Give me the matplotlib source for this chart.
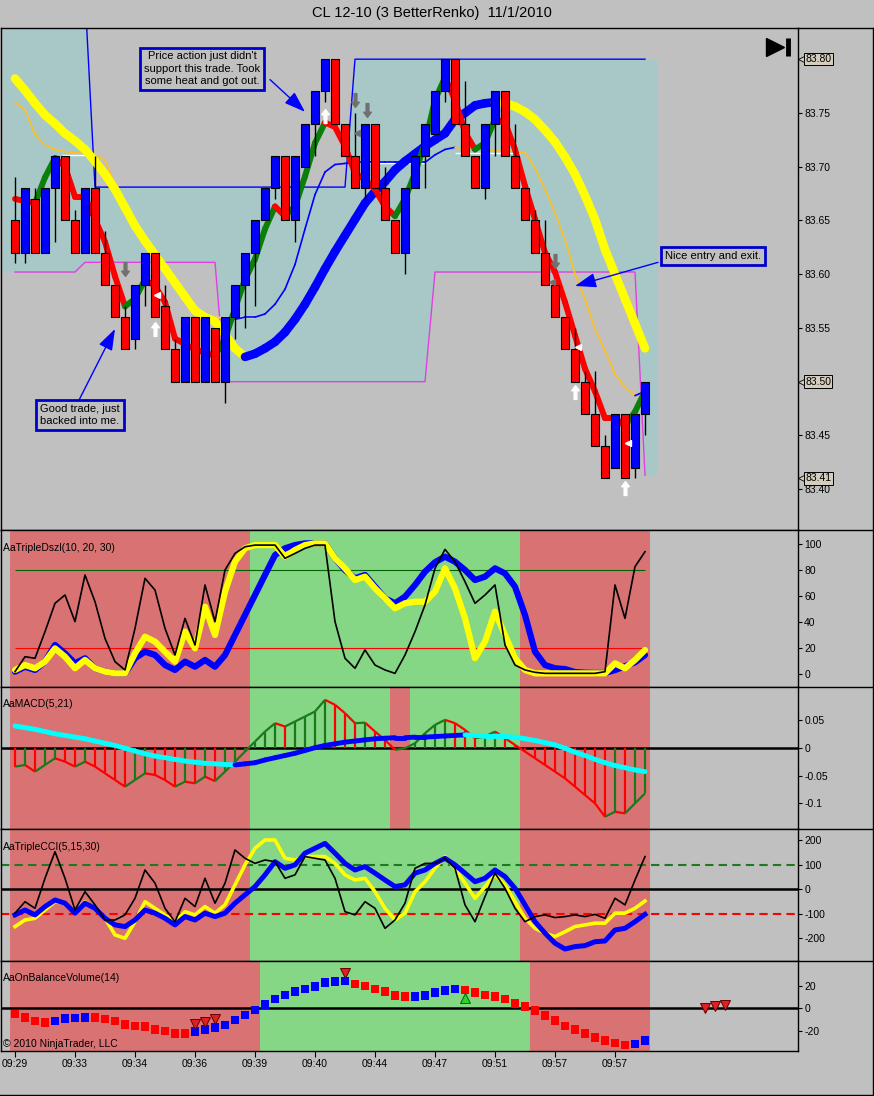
import numpy as np
import matplotlib
matplotlib.use('Agg')
import matplotlib.pyplot as plt
import matplotlib.transforms as mtransforms
from matplotlib.collections import LineCollection
from matplotlib.lines import Line2D
from matplotlib.path import Path

plt.rcParams['font.family'] = ['Liberation Sans', 'DejaVu Sans']
plt.rcParams['axes.unicode_minus'] = False

# ---------------- data (one entry per renko bar) ----------------
bar_open = [83.65, 83.62, 83.67, 83.62, 83.68, 83.71, 83.65, 83.62, 83.68, 83.62,
            83.59, 83.56, 83.54, 83.59, 83.62, 83.57, 83.53, 83.50, 83.56, 83.50,
            83.55, 83.50, 83.56, 83.59, 83.62, 83.65, 83.68, 83.71, 83.65, 83.70,
            83.74, 83.77, 83.80, 83.74, 83.71, 83.68, 83.74, 83.68, 83.65, 83.62,
            83.68, 83.71, 83.73, 83.77, 83.80, 83.74, 83.71, 83.68, 83.74, 83.77,
            83.71, 83.68, 83.65, 83.62, 83.59, 83.56, 83.53, 83.50, 83.47, 83.44,
            83.42, 83.47, 83.42, 83.47]
bar_close = [83.62, 83.68, 83.62, 83.68, 83.71, 83.65, 83.62, 83.68, 83.62, 83.59,
             83.56, 83.53, 83.59, 83.62, 83.56, 83.53, 83.50, 83.56, 83.50, 83.56,
             83.50, 83.56, 83.59, 83.62, 83.65, 83.68, 83.71, 83.65, 83.71, 83.74,
             83.77, 83.80, 83.74, 83.71, 83.68, 83.74, 83.68, 83.65, 83.62, 83.68,
             83.71, 83.74, 83.77, 83.80, 83.74, 83.71, 83.68, 83.74, 83.77, 83.71,
             83.68, 83.65, 83.62, 83.59, 83.56, 83.53, 83.50, 83.47, 83.44, 83.41,
             83.47, 83.41, 83.47, 83.50]
bar_high = [83.69, 83.68, 83.68, 83.68, 83.71, 83.71, 83.66, 83.68, 83.71, 83.64,
            83.59, 83.57, 83.59, 83.62, 83.62, 83.59, 83.54, 83.56, 83.56, 83.56,
            83.55, 83.56, 83.59, 83.62, 83.65, 83.68, 83.71, 83.71, 83.71, 83.74,
            83.77, 83.80, 83.80, 83.74, 83.75, 83.74, 83.74, 83.70, 83.65, 83.68,
            83.71, 83.74, 83.77, 83.80, 83.80, 83.78, 83.71, 83.74, 83.77, 83.77,
            83.74, 83.68, 83.66, 83.65, 83.59, 83.56, 83.55, 83.51, 83.51, 83.45,
            83.47, 83.47, 83.47, 83.50]
bar_low = [83.61, 83.61, 83.62, 83.62, 83.63, 83.65, 83.62, 83.62, 83.62, 83.59,
           83.56, 83.53, 83.53, 83.57, 83.56, 83.53, 83.50, 83.50, 83.50, 83.50,
           83.50, 83.48, 83.54, 83.55, 83.57, 83.65, 83.67, 83.65, 83.63, 83.70,
           83.71, 83.76, 83.74, 83.71, 83.68, 83.67, 83.68, 83.65, 83.62, 83.60,
           83.68, 83.68, 83.73, 83.76, 83.74, 83.71, 83.68, 83.67, 83.71, 83.71,
           83.68, 83.65, 83.62, 83.59, 83.56, 83.53, 83.50, 83.47, 83.44, 83.41,
           83.42, 83.41, 83.41, 83.45]

fast_ma = [83.670, 83.668, 83.666, 83.690, 83.708, 83.700, 83.672, 83.672, 83.651, 83.630,
           83.598, 83.570, 83.577, 83.595, 83.589, 83.574, 83.540, 83.535, 83.530, 83.527,
           83.524, 83.540, 83.568, 83.595, 83.614, 83.642, 83.663, 83.654, 83.663, 83.691,
           83.722, 83.741, 83.737, 83.719, 83.694, 83.688, 83.679, 83.663, 83.654, 83.670,
           83.694, 83.722, 83.762, 83.783, 83.762, 83.732, 83.716, 83.722, 83.744, 83.741,
           83.716, 83.682, 83.651, 83.620, 83.602, 83.574, 83.543, 83.512, 83.491, 83.466,
           83.466, 83.459, 83.472, 83.491]
slow_ma = [83.782, 83.771, 83.759, 83.748, 83.740, 83.731, 83.724, 83.716, 83.705, 83.693,
           83.679, 83.662, 83.645, 83.631, 83.618, 83.605, 83.592, 83.579, 83.566, 83.560,
           83.556, 83.544, 83.531, 83.523, 83.526, 83.531, 83.537, 83.546, 83.558, 83.572,
           83.588, 83.605, 83.621, 83.636, 83.651, 83.666, 83.677, 83.686, 83.697, 83.705,
           83.712, 83.719, 83.725, 83.731, 83.744, 83.750, 83.757, 83.759, 83.760, 83.759,
           83.756, 83.751, 83.744, 83.734, 83.723, 83.709, 83.693, 83.673, 83.651, 83.623,
           83.600, 83.577, 83.554, 83.531]
thin_ma = [83.760, 83.753, 83.730, 83.720, 83.716, 83.714, 83.713, 83.712, 83.711, 83.706,
           83.683, 83.656, 83.644, 83.632, 83.621, 83.605, 83.591, 83.577, 83.568, 83.562,
           83.560, 83.558, 83.558, 83.560, 83.560, 83.563, 83.572, 83.586, 83.609, 83.642,
           83.674, 83.695, 83.702, 83.703, 83.704, 83.704, 83.704, 83.704, 83.704, 83.704,
           83.704, 83.704, 83.711, 83.716, 83.718, 83.717, 83.716, 83.716, 83.715, 83.715,
           83.714, 83.713, 83.699, 83.679, 83.657, 83.632, 83.600, 83.577, 83.549, 83.529,
           83.507, 83.495, 83.487, 83.491]
chan_upper = [83.86] * 8 + [83.681] * 26 + [83.80] * 30
chan_lower = [83.602] * 7 + [83.611] * 14 + [83.50] * 21 + [83.602] * 21 + [83.413]

# entry-price dashes: (start bar, end bar, price)
entry_x0 = [4.7, 20.0, 35.3, 44.0]
entry_x1 = [8.0, 24.0, 41.0, 50.5]
entry_y = [83.711, 83.560, 83.703, 83.713]

# trade markers
up_arrow_x = [14, 31, 56, 61]
up_arrow_y = [83.549, 83.747, 83.490, 83.401]
down_arrow_x = [11, 34, 35.2, 54]
down_arrow_y = [83.605, 83.762, 83.753, 83.612]
left_tri_x = [14.2, 56.3, 61.3]
left_tri_y = [83.581, 83.532, 83.443]
gray_tri_x = [34.2, 53.7]
gray_tri_y = [83.731, 83.593]

notes = ["Price action just didn't\nsupport this trade. Took\nsome heat and got out.",
         "Nice entry and exit.",
         "Good trade, just\nbacked into me."]
note_x = [18.7, 69.8, 6.5]
note_y = [83.791, 83.617, 83.469]
note_tail_x = [25.5, 64.3, 6.3]
note_tail_y = [83.781, 83.611, 83.481]
note_tip_x = [29.0, 56.0, 10.0]
note_tip_y = [83.751, 83.589, 83.549]

dszl_black = [1.8, 13.3, 12.1, 32.6, 54.4, 60.8, 40.3, 76.2, 55.6, 27.4,
              9.5, 3.1, 35.1, 73.6, 64.6, 35.1, 14.6, 42.8, 22.3, 68.5,
              40.3, 80, 92.8, 97.9, 99.2, 99.2, 99.2, 89, 92.8, 96.7,
              99.2, 99.2, 40.3, 12.1, 4.4, 18.5, 6.9, 3.1, 0.5, 14.6,
              32.6, 53.1, 81.3, 95.9, 86.4, 71, 54.4, 60.8, 68.5, 22.3,
              6.9, 3.1, 1.3, 0.5, 0.5, 0.5, 0.5, 0.5, 0.5, 1.8,
              68.5, 42.8, 82.6, 94.1]
dszl_yellow = [3.1, 6.9, 4.4, 9.5, 19.7, 13.3, 4.4, 10.8, 4.4, 1.8,
               0.5, 0.5, 15.9, 28.7, 24.9, 17.2, 9.5, 32.6, 19.7, 51.8,
               30, 63.3, 86.4, 96.7, 99.2, 99.2, 99.2, 90.3, 95.4, 99.2,
               100.5, 100.5, 89, 81.3, 72.3, 74.9, 65.9, 58.2, 50.5, 54.4,
               55.6, 55.6, 63.3, 81.3, 65.9, 42.8, 12.1, 24.9, 48, 30,
               12.1, 3.1, 0.5, 0.5, 0.5, 0.5, 0.5, 0.5, 0.5, 0.5,
               8.2, 4.4, 10.8, 18.5]
dszl_blue = [1.8, 5.6, 3.1, 9.5, 22.3, 15.9, 8.2, 12.1, 4.4, 1.8,
             0.5, 0.5, 12.1, 17.2, 14.6, 6.9, 3.1, 9.5, 5.6, 10.8,
             5.6, 14.6, 30, 45.4, 60.8, 76.2, 91.5, 96.7, 99.2, 100.5,
             100.5, 100.5, 89, 80, 73.6, 76.2, 67.2, 58.2, 54.4, 59.5,
             68.5, 78.7, 86, 90.3, 86.4, 80, 72.3, 74.9, 81.3, 77.4,
             67.2, 45.4, 17.2, 6.9, 4.4, 3.8, 1.5, 1.0, 0.8, 0.8,
             3, 6, 9, 14.6]

macd_hist = [-0.034, -0.031, -0.043, -0.031, -0.019, -0.025, -0.034, -0.025, -0.034, -0.046,
             -0.058, -0.070, -0.058, -0.046, -0.049, -0.058, -0.070, -0.061, -0.064, -0.052,
             -0.060, -0.043, -0.025, -0.007, 0.011, 0.029, 0.044, 0.038, 0.047, 0.056,
             0.065, 0.086, 0.077, 0.062, 0.044, 0.045, 0.029, 0.014, -0.004, -0.001,
             0.008, 0.026, 0.041, 0.050, 0.044, 0.032, 0.017, 0.020, 0.029, 0.017,
             0.005, -0.007, -0.019, -0.031, -0.043, -0.055, -0.070, -0.085, -0.100, -0.124,
             -0.115, -0.118, -0.100, -0.082]
macd_line = [0.039, 0.036, 0.033, 0.029, 0.025, 0.022, 0.019, 0.016, 0.012, 0.008,
             0.004, -0.001, -0.006, -0.011, -0.015, -0.018, -0.021, -0.024, -0.026, -0.028,
             -0.029, -0.030, -0.031, -0.029, -0.027, -0.022, -0.018, -0.014, -0.010, -0.005,
             0.000, 0.004, 0.007, 0.010, 0.012, 0.014, 0.016, 0.017, 0.018, 0.018,
             0.019, 0.019, 0.020, 0.021, 0.022, 0.023, 0.022, 0.021, 0.021, 0.020,
             0.019, 0.016, 0.013, 0.009, 0.005, -0.001, -0.008, -0.014, -0.021, -0.027,
             -0.032, -0.036, -0.040, -0.043]

cci_black = [-98, -51, -78, 45, 154, 45, -85, -10, -64, -126,
             -126, -105, -37, 79, 25, -78, -133, -37, -71, 45,
             -57, 25, 161, 127, 106, 120, 113, 45, 59, 134,
             127, 120, 45, -92, -105, -51, -78, -160, -126, -57,
             86, 106, 106, 127, 86, -64, -133, -30, 66, 4,
             -78, -133, -112, -105, -116, -112, -105, -112, -103, -119,
             -37, -64, 38, 134]
cci_yellow = [-153, -126, -119, -85, -51, -57, -92, -51, -78, -119,
              -187, -201, -133, -51, -78, -105, -133, -92, -105, -71,
              -98, -64, 18, 100, 168, 202, 202, 127, 120, 134,
              134, 134, 106, 59, 38, 45, -10, -78, -126, -98,
              -10, 31, 86, 134, 86, 25, -37, 10, 59, 18,
              -51, -119, -160, -180, -194, -174, -153, -146, -139, -139,
              -98, -98, -78, -48]
cci_blue = [-105, -85, -105, -71, -44, -57, -98, -57, -78, -119,
            -146, -153, -126, -85, -98, -119, -146, -112, -126, -98,
            -112, -98, -57, -23, 11, 59, 113, 86, 100, 148,
            168, 188, 148, 106, 79, 93, 66, 38, 11, 18,
            66, 79, 106, 127, 100, 66, 31, 45, 79, 52,
            4, -64, -133, -180, -221, -245, -235, -231, -215, -212,
            -167, -160, -133, -103]

obv = [-5.1, -8.3, -11.3, -12.4, -11.3, -9.2, -8.6, -8.1, -8.3, -9.5,
       -11.3, -14.2, -15.7, -16.3, -18.7, -20.2, -22.2, -22.4, -20.8, -18.7,
       -16.9, -14.8, -10.4, -6.0, -1.5, 3.5, 8.3, 11.8, 14.8, 17.2,
       19.2, 22.8, 23.7, 24.3, 21.6, 19.8, 17.2, 14.8, 11.2, 10.2,
       10.4, 11.2, 14.1, 15.7, 17.2, 16.3, 13.9, 11.8, 10.4, 8.3,
       4.4, 1.5, -2.1, -6.5, -11.0, -15.7, -18.7, -22.6, -25.8, -29.0,
       -30.8, -32.6, -31.7, -29.0]
obv_sell_x = [18, 19, 20, 33, 69, 70, 71]
obv_sell_y = [-14, -11.9, -9.5, 31.6, 0, 2, 2.9]
obv_buy_x = [45]
obv_buy_y = [8.9]

# background state per bar: r = bearish, g = bullish
dszl_bg = 'r' * 24 + 'g' * 27 + 'r' * 13
macd_bg = 'r' * 24 + 'g' * 14 + 'r' * 2 + 'g' * 11 + 'r' * 13
cci_bg = 'r' * 24 + 'g' * 27 + 'r' * 13
obv_bg = 'r' * 25 + 'g' * 27 + 'r' * 12

time_ticks = list(range(0, 61, 6))
time_labels = ['09:29', '09:33', '09:34', '09:36', '09:39', '09:40',
               '09:44', '09:47', '09:51', '09:57', '09:57']

# ---------------- styling ----------------
GRAY = '#C0C0C0'
RED_BG = '#D97373'
GREEN_BG = '#85D685'
TEAL = '#A8C8C8'
W, H = 874, 1096
x = np.arange(len(bar_open))

fig = plt.figure(figsize=(W / 100, H / 100), dpi=100, facecolor=GRAY)


def panel(top, bottom):
    ax = fig.add_axes([1 / W, (H - bottom) / H, 797 / W, (bottom - top) / H])
    ax.set_facecolor(GRAY)
    ax.set_xlim(-1.4, 78.3)
    ax.yaxis.tick_right()
    ax.tick_params(axis='y', direction='out', length=3, width=0.8,
                   labelsize=7.5, pad=1.5)
    ax.tick_params(axis='x', bottom=False, labelbottom=False)
    for s in ax.spines.values():
        s.set_color('black')
        s.set_linewidth(1)
    return ax


def shade(ax, states):
    cols = {'r': RED_BG, 'g': GREEN_BG}
    start = 0
    for k in range(1, len(states) + 1):
        if k == len(states) or states[k] != states[start]:
            ax.axvspan(start - 0.5, k - 0.5, color=cols[states[start]], lw=0, zorder=0)
            start = k


def dir_colors(v, up, down):
    out = [down]
    for a, b in zip(v[:-1], v[1:]):
        out.append(up if b > a else down if b < a else out[-1])
    return out


def colored_line(ax, v, up, down, lw, z):
    pts = np.column_stack([x, v])
    segs = np.stack([pts[:-1], pts[1:]], axis=1)
    cols = dir_colors(v, up, down)[1:]
    ax.add_collection(LineCollection(segs, colors=cols, linewidths=lw,
                                     capstyle='round', zorder=z))


# ---------------- price panel ----------------
ax = panel(28, 530)
ax.set_ylim(83.362, 83.829)
xf = np.r_[-1.3, x, x[-1] + 1.2]
ax.fill_between(xf, np.r_[chan_lower[0], chan_lower, chan_lower[-1]],
                np.r_[chan_upper[0], chan_upper, chan_upper[-1]],
                color=TEAL, lw=0, zorder=1)
ax.plot(x, chan_upper, color='#0000FF', lw=1, zorder=2)
ax.plot(x, chan_lower, color='#E040E0', lw=1, zorder=2)
ax.hlines(entry_y, entry_x0, entry_x1, color='white', lw=1, zorder=2)

colored_line(ax, thin_ma, '#0000FF', '#FFC020', 1.2, 3)
colored_line(ax, slow_ma, '#0000FF', '#FFFF00', 6.2, 3.5)
colored_line(ax, fast_ma, '#0A800A', '#FF0000', 4.3, 4)

o, c = np.array(bar_open), np.array(bar_close)
ax.vlines(x, bar_low, bar_high, color='black', lw=1, zorder=5)
ax.bar(x, np.abs(c - o), bottom=np.minimum(o, c), width=0.75,
       color=np.where(c > o, '#0000FF', '#FF0000'), edgecolor='black', lw=0.8, zorder=6)

up_path = Path([(0, 1), (-0.55, 0.25), (-0.2, 0.25), (-0.2, -1), (0.2, -1),
                (0.2, 0.25), (0.55, 0.25), (0, 1)])
down_path = Path([(px, -py) for px, py in up_path.vertices])
ax.plot(up_arrow_x, up_arrow_y, ls='none', marker=up_path, ms=10, color='white', zorder=7)
ax.plot(down_arrow_x, down_arrow_y, ls='none', marker=down_path, ms=10, color='#707070', zorder=7)
ax.plot(left_tri_x, left_tri_y, ls='none', marker='<', ms=4, color='white', zorder=7)
ax.plot(gray_tri_x, gray_tri_y, ls='none', marker='<', ms=4, color='#707070', zorder=7)

for txt, nx, ny, tx, ty, hx, hy in zip(notes, note_x, note_y, note_tail_x, note_tail_y,
                                       note_tip_x, note_tip_y):
    ax.annotate('', xy=(hx, hy), xytext=(tx, ty), zorder=8,
                arrowprops=dict(arrowstyle='-|>,head_length=1.3,head_width=0.45',
                                color='#0000FF', lw=1, mutation_scale=10,
                                shrinkA=0, shrinkB=0))
    ax.text(nx, ny, txt, ha='center', va='center', fontsize=8, linespacing=1.3, zorder=9,
            bbox=dict(boxstyle='square,pad=0.35', fc=GRAY, ec='#0000CC', lw=2))

price_ticks = [83.40, 83.45, 83.50, 83.55, 83.60, 83.65, 83.70, 83.75, 83.80]
ax.set_yticks(price_ticks)
ax.set_yticklabels(['' if p in (83.50, 83.80) else f'{p:.2f}' for p in price_ticks])
tr = mtransforms.blended_transform_factory(ax.transAxes, ax.transData)
for p in (83.80, 83.50, 83.41):
    ax.plot(1.0045, p, marker='<', ms=6, mfc='#D4CCBC', mec='black', mew=0.6,
            transform=tr, clip_on=False, zorder=10)
    ax.text(1.009, p, f'{p:.2f}', transform=tr, fontsize=7.5, va='center', ha='left',
            bbox=dict(boxstyle='square,pad=0.12', fc='#D4CCBC', ec='black', lw=0.7),
            zorder=11)
ax.plot(0.971, 0.962, marker='>', ms=13, color='black', transform=ax.transAxes, clip_on=False)
ax.plot([0.9875, 0.9875], [0.944, 0.980], lw=3.5, color='black', solid_capstyle='butt',
        transform=ax.transAxes)

# ---------------- AaTripleDszl ----------------
ax = panel(530, 687)
ax.set_ylim(-10, 110.8)
shade(ax, dszl_bg)
ax.hlines(80, 0, 63, color='#006400', lw=0.8, zorder=1)
ax.hlines(20, 0, 63, color='#FF0000', lw=0.8, zorder=1)
ax.plot(x, dszl_blue, color='#0000FF', lw=4.5, solid_capstyle='round', zorder=2)
ax.plot(x, dszl_yellow, color='#FFFF00', lw=4.5, solid_capstyle='round', zorder=3)
ax.plot(x, dszl_black, color='black', lw=1.2, zorder=4)
ax.set_yticks([0, 20, 40, 60, 80, 100])
ax.text(0.0025, 0.885, 'AaTripleDszl(10, 20, 30)', transform=ax.transAxes, fontsize=7.5, va='center')

# ---------------- AaMACD ----------------
ax = panel(687, 829)
ax.set_ylim(-0.146, 0.109)
shade(ax, macd_bg)
ax.axhline(0, color='black', lw=1.8, zorder=1)
hcols = dir_colors(macd_hist, '#1A7A1A', '#FF0000')
ax.vlines(x, 0, macd_hist, colors=hcols, lw=1.6, zorder=2)
tips = np.column_stack([x, macd_hist])
ax.add_collection(LineCollection(np.stack([tips[:-1], tips[1:]], axis=1), colors=hcols[1:],
                                 linewidths=1.6, zorder=2))
colored_line(ax, macd_line, '#0000FF', '#00FFFF', 3.5, 3)
ax.set_yticks([-0.1, -0.05, 0, 0.05])
ax.set_yticklabels(['-0.1', '-0.05', '0', '0.05'])
ax.text(0.0025, 0.88, 'AaMACD(5,21)', transform=ax.transAxes, fontsize=7.5, va='center')

# ---------------- AaTripleCCI ----------------
ax = panel(829, 961)
ax.set_ylim(-294, 247)
shade(ax, cci_bg)
ax.axhline(100, color='#1E7A1E', lw=1.5, ls=(0, (4, 2.5)), zorder=1)
ax.axhline(-100, color='#FF0000', lw=1.5, ls=(0, (4, 2.5)), zorder=1)
ax.axhline(0, color='black', lw=1.8, zorder=1)
ax.plot(x, cci_yellow, color='#FFFF00', lw=2.6, zorder=2)
ax.plot(x, cci_blue, color='#0000FF', lw=3.6, zorder=3)
ax.plot(x, cci_black, color='black', lw=1.2, zorder=4)
ax.set_yticks([-200, -100, 0, 100, 200])
ax.text(0.0025, 0.864, 'AaTripleCCI(5,15,30)', transform=ax.transAxes, fontsize=7.5, va='center')

# ---------------- AaOnBalanceVolume ----------------
ax = panel(961, 1051)
ax.set_ylim(-38, 42)
shade(ax, obv_bg)
ax.axhline(0, color='black', lw=1.8, zorder=1)
ax.scatter(x, obv, marker='s', s=40, c=dir_colors(obv, '#0000FF', '#FF0000'), lw=0, zorder=3)
ax.plot(obv_sell_x, obv_sell_y, ls='none', marker='v', ms=7.5, mfc='#E02020', mec='#600000',
        mew=0.7, zorder=4)
ax.plot(obv_buy_x, obv_buy_y, ls='none', marker='^', ms=7.5, mfc='#30D030', mec='#006000',
        mew=0.7, zorder=4)
ax.set_yticks([-20, 0, 20])
ax.set_xticks(time_ticks)
ax.set_xticklabels(time_labels)
ax.tick_params(axis='x', bottom=True, labelbottom=True, direction='out', length=4,
               width=0.8, labelsize=7.5, pad=2)
ax.text(0.0025, 0.81, 'AaOnBalanceVolume(14)', transform=ax.transAxes, fontsize=7.5, va='center')
ax.text(0.0025, 0.078, '\u00a9 2010 NinjaTrader, LLC', transform=ax.transAxes, fontsize=7.5,
        va='center', zorder=5)

# ---------------- frame and title ----------------
for yy in (28, 530, 687, 829, 961):
    fig.add_artist(Line2D([798 / W, 873 / W], [1 - yy / H] * 2, color='black', lw=1))
fig.add_artist(Line2D([873 / W, 873 / W], [1 - 28 / H, 1 - 1095 / H], color='black', lw=1))
fig.add_artist(Line2D([0, 873 / W], [1 - 1095 / H] * 2, color='black', lw=1))
fig.text(0.494, 0.988, 'CL 12-10 (3 BetterRenko)  11/1/2010', ha='center', va='center',
         fontsize=10.5)

fig.savefig('out.png', dpi=100, facecolor=GRAY)
